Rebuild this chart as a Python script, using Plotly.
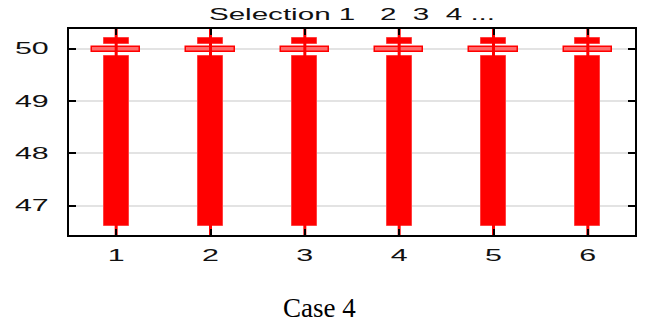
import plotly.graph_objects as go

categories = [1, 2, 3, 4, 5, 6]
box_low = [46.61, 46.61, 46.61, 46.61, 46.61, 46.61]
box_high = [49.87, 49.87, 49.87, 49.87, 49.87, 49.87]
median_low = [49.935, 49.935, 49.935, 49.935, 49.935, 49.935]
median_high = [50.03, 50.03, 50.03, 50.03, 50.03, 50.03]
cap_low = [50.09, 50.09, 50.09, 50.09, 50.09, 50.09]
cap_high = [50.20, 50.20, 50.20, 50.20, 50.20, 50.20]
whisker_low = [46.2, 46.2, 46.2, 46.2, 46.2, 46.2]
whisker_high = [50.6, 50.6, 50.6, 50.6, 50.6, 50.6]
y_ticks = [47, 48, 49, 50]
y_tick_labels = ["47", "48", "49", "50"]
x_tick_labels = ["1", "2", "3", "4", "5", "6"]

RED = "#ff0000"
fig = go.Figure()

fig.add_trace(go.Bar(
    x=categories, base=box_low, y=[h - l for h, l in zip(box_high, box_low)],
    width=0.266, marker=dict(color=RED, line=dict(color="#ff4040", width=1)),
    showlegend=False, hoverinfo="skip"))
fig.add_trace(go.Bar(
    x=categories, base=cap_low, y=[h - l for h, l in zip(cap_high, cap_low)],
    width=0.266, marker=dict(color=RED, line=dict(color="#ff4040", width=1)),
    showlegend=False, hoverinfo="skip"))
fig.add_trace(go.Bar(
    x=categories, base=median_low, y=[h - l for h, l in zip(median_high, median_low)],
    width=0.51, marker=dict(color="#ff6a6a", line=dict(color=RED, width=1.5)),
    showlegend=False, hoverinfo="skip"))

wx, wy = [], []
for c, lo, hi in zip(categories, whisker_low, whisker_high):
    wx += [c, c, None]
    wy += [lo, hi, None]
fig.add_trace(go.Scatter(x=wx, y=wy, mode="lines",
                         line=dict(color=RED, width=3),
                         showlegend=False, hoverinfo="skip"))

tickfont = dict(family="Liberation Sans", size=16, color="#111111")
fig.update_layout(
    width=648, height=327,
    margin=dict(l=69, r=11, t=29, b=92),
    paper_bgcolor="white", plot_bgcolor="white",
    barmode="overlay", bargap=0,
    title=dict(
        text="Selection 1\u00a0\u00a0\u00a02\u00a0\u00a03\u00a0\u00a04\u00a0...",
        x=352 / 648, xanchor="center", y=1 - 14 / 327, yanchor="middle",
        yref="container", font=dict(family="Liberation Sans", size=16, color="#111111")),
    xaxis=dict(range=[0.5, 6.5], tickvals=categories, ticktext=x_tick_labels,
               showgrid=False, zeroline=False,
               showline=True, linecolor="black", linewidth=2, mirror="ticks",
               ticks="inside", ticklen=6, tickwidth=2, tickcolor="black",
               tickfont=tickfont, ticklabelstandoff=5),
    yaxis=dict(range=[46.44, 50.38], tickvals=y_ticks, ticktext=y_tick_labels,
               showgrid=True, gridcolor="#e3e3e3", gridwidth=1.5, zeroline=False,
               showline=True, linecolor="black", linewidth=2, mirror="ticks",
               ticks="inside", ticklen=7, tickwidth=2, tickcolor="black",
               tickfont=tickfont, ticklabelstandoff=15),
    annotations=[dict(text="Case 4", xref="paper", yref="paper",
                      x=(320 - 69) / (637 - 69), y=-(308 - 235) / (235 - 29.3),
                      xanchor="center", yanchor="middle", showarrow=False,
                      font=dict(family="Liberation Serif", size=27, color="black"))],
)

post = """
document.body.style.margin = '0';
var gd = document.getElementById('{plot_id}');
function stretch(sel, s, mode) {
  gd.querySelectorAll(sel).forEach(function (t) {
    var b = t.getBBox();
    var cx = (mode === 'end') ? (b.x + b.width) : (b.x + b.width / 2);
    var tr = t.getAttribute('transform') || '';
    t.setAttribute('transform', tr + ' translate(' + cx + ',0) scale(' + s + ',1) translate(' + (-cx) + ',0)');
  });
}
stretch('.ytick text', 1.9, 'end');
stretch('.xtick text', 1.9, 'mid');
stretch('.gtitle', 1.85, 'mid');
"""

fig.write_html("out.html", config={"displayModeBar": False}, post_script=post)
